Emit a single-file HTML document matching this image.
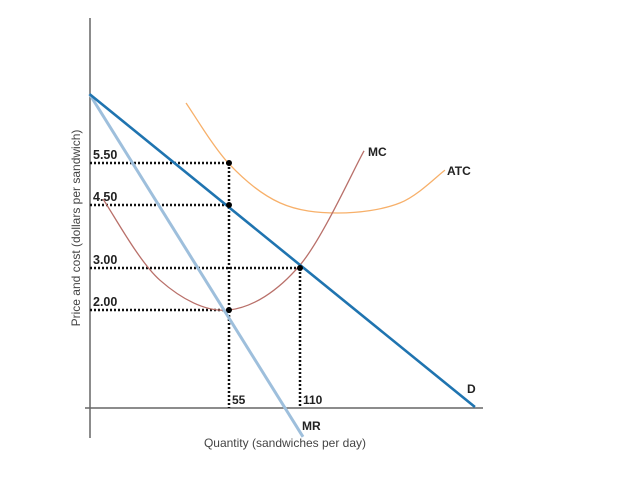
<!DOCTYPE html>
<html><head><meta charset="utf-8"><style>
body{margin:0;background:#fff;width:621px;height:472px;overflow:hidden}
text{font-family:"Liberation Sans",sans-serif}
</style></head><body>
<svg id="chart" width="621" height="472" viewBox="0 0 621 472" xmlns="http://www.w3.org/2000/svg">
<line x1="90" y1="18" x2="90" y2="438" stroke="#666" stroke-width="1.5"/>
<line x1="85" y1="408" x2="483" y2="408" stroke="#666" stroke-width="1.5"/>
<text transform="translate(80,228) rotate(-90)" text-anchor="middle" font-size="12" fill="#444">Price and cost (dollars per sandwich)</text>
<text x="285" y="447" text-anchor="middle" font-size="12" fill="#444">Quantity (sandwiches per day)</text>
<g id="g"></g>
</svg>
<script>
const demandQ=[-53,245.5], demandP=[7.14,-0.31];
const mrQ=[-53,112.3], mrP=[7.14,-1.02];
const mcQ=[-42.6,1.5,55,110,159.6], mcP=[4.64,2.71,2.0,3.07,5.79];
const atcQ=[21.7,55,94.5,139.4,187.5,222.3], atcP=[6.93,5.48,4.55,4.31,4.55,5.33];
const priceLabels=["5.50","4.50","3.00","2.00"];
const priceVals=[5.5,4.5,3.0,2.0];
const priceQ=[55,55,110,55];
const qtyLabels=["55","110"];
const qtyVals=[55,110];
const qtyTopP=[5.5,3.0];
const X=q=>158+q*1.291, Y=p=>394-p*42;
const NS="http://www.w3.org/2000/svg", g=document.getElementById('g');
function mk(t,a){const e=document.createElementNS(NS,t);for(const k in a)e.setAttribute(k,a[k]);g.appendChild(e);return e;}
function smooth(qs,ps){const pts=qs.map((q,i)=>[X(q),Y(ps[i])]);let d="M"+pts[0];for(let i=0;i<pts.length-1;i++){const p0=pts[i-1]||pts[i],p1=pts[i],p2=pts[i+1],p3=pts[i+2]||p2;d+=" C"+(p1[0]+(p2[0]-p0[0])/6)+","+(p1[1]+(p2[1]-p0[1])/6)+" "+(p2[0]-(p3[0]-p1[0])/6)+","+(p2[1]-(p3[1]-p1[1])/6)+" "+p2;}return d;}
priceVals.forEach((p,i)=>{
 const l=mk('line',{x1:90,y1:Y(p),x2:X(priceQ[i]),y2:Y(p),stroke:'#111','stroke-width':2.5,'stroke-dasharray':'2,2'});
 
 
 const t=mk('text',{x:93,y:Y(p)-4,'font-size':12.5,'font-weight':'bold',fill:'#222'});t.textContent=priceLabels[i];
 
 
});
qtyVals.forEach((q,i)=>{
 const l=mk('line',{x1:X(q),y1:Y(qtyTopP[i]),x2:X(q),y2:408,stroke:'#111','stroke-width':2.5,'stroke-dasharray':'2,2'});
 
 
 const t=mk('text',{x:X(q)+3,y:404,'font-size':12,'font-weight':'bold',fill:'#222'});t.textContent=qtyLabels[i];
 
 
});
let e=mk('path',{d:smooth(atcQ,atcP),fill:'none',stroke:'#f7b06a','stroke-width':1.3});


e=mk('path',{d:smooth(mcQ,mcP),fill:'none',stroke:'#b9706a','stroke-width':1.3});


e=mk('line',{x1:X(mrQ[0]),y1:Y(mrP[0]),x2:X(mrQ[1]),y2:Y(mrP[1]),stroke:'#9ebfdc','stroke-width':3});


e=mk('line',{x1:X(demandQ[0]),y1:Y(demandP[0]),x2:X(demandQ[1]),y2:Y(demandP[1]),stroke:'#1f74b0','stroke-width':2.6});


priceVals.forEach((p,i)=>{
 const c=mk('circle',{cx:X(priceQ[i]),cy:Y(p),r:3,fill:'#000'});
 
 
});
const labs=[["MC",368,156],["ATC",447,175],["D",467,393],["MR",302,430]];
labs.forEach(l=>{const t=mk('text',{x:l[1],y:l[2],'font-size':12,'font-weight':'bold',fill:'#222'});t.textContent=l[0];
 
 });
</script>
</body></html>
